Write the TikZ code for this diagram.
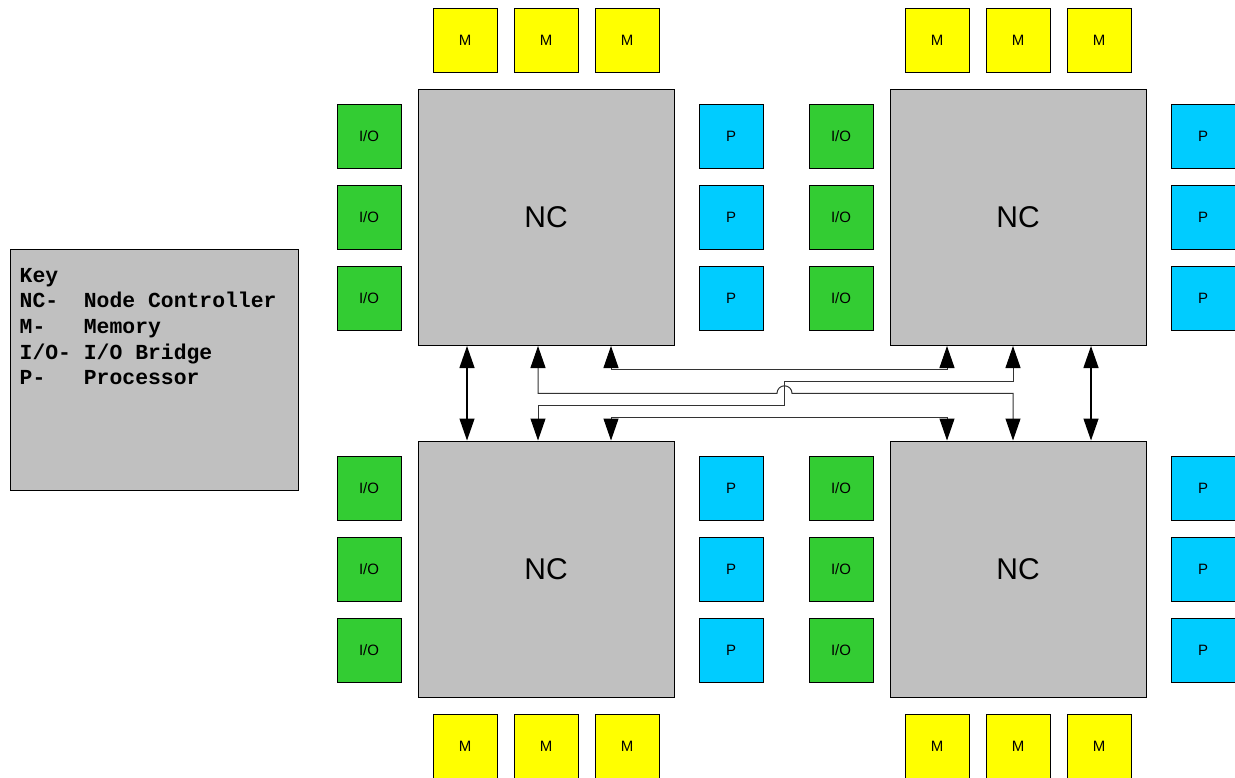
\documentclass[tikz,border=0pt]{standalone}
\usepackage{fontspec}
\setmainfont{Liberation Sans}
\newfontfamily\keyfont{Liberation Mono}
\usepackage{tikz}
\usetikzlibrary{positioning, arrows.meta}
\definecolor{memyellow}{RGB}{255,255,0}
\definecolor{iogreen}{RGB}{51,204,51}
\definecolor{procblue}{RGB}{0,204,255}
\definecolor{ncgray}{RGB}{192,192,192}
\tikzstyle{ncbox} = [rectangle, minimum width=256pt, minimum height=256pt, inner sep=0pt, draw=black, line width=1pt, fill=ncgray, font=\fontsize{30}{36}\selectfont]
\tikzstyle{unit} = [rectangle, minimum size=64pt, inner sep=0pt, draw=black, line width=1pt, font=\fontsize{15}{18}\selectfont]
\tikzstyle{membox} = [unit, fill=memyellow]
\tikzstyle{iobox} = [unit, fill=iogreen]
\tikzstyle{procbox} = [unit, fill=procblue]
\tikzstyle{keybox} = [rectangle, minimum width=288pt, minimum height=240pt, inner sep=0pt, draw=black, line width=1pt, fill=ncgray]
\tikzstyle{bus} = [draw=black!80, line width=1pt, >={Triangle[length=22pt, width=15pt, color=black]}, <->]
\tikzstyle{mainbus} = [bus, draw=black, line width=1.3pt]

\begin{document}
\begin{tikzpicture}[x=1pt, y=-1pt]
    \useasboundingbox (0,0) rectangle (1235,778);

    % node controllers with I/O bridges and processors
    \foreach \nc/\cx/\cy in {tl/546/217.5, tr/1018/217.5, bl/546/569, br/1018/569} {
        \node (\nc) [ncbox] at (\cx,\cy) {NC};
        \node (\nc-io2) [iobox, left=16pt of \nc] {I/O};
        \node (\nc-io1) [iobox, above=16pt of \nc-io2] {I/O};
        \node (\nc-io3) [iobox, below=16pt of \nc-io2] {I/O};
        \node (\nc-p2) [procbox, right=24pt of \nc] {P};
        \node (\nc-p1) [procbox, above=16pt of \nc-p2] {P};
        \node (\nc-p3) [procbox, below=16pt of \nc-p2] {P};
    }
    % memories
    \foreach \nc in {tl, tr} {
        \node (\nc-m2) [membox, above=16pt of \nc] {M};
        \node (\nc-m1) [membox, left=16pt of \nc-m2] {M};
        \node (\nc-m3) [membox, right=16pt of \nc-m2] {M};
    }
    \foreach \nc in {bl, br} {
        \node (\nc-m2) [membox, below=16pt of \nc] {M};
        \node (\nc-m1) [membox, left=16pt of \nc-m2] {M};
        \node (\nc-m3) [membox, right=16pt of \nc-m2] {M};
    }

    % key
    \node (key) [keybox] at (154,370) {};
    \node (keytext) [anchor=north west, align=left, inner sep=0pt, font=\keyfont\bfseries\fontsize{21.4}{25.6}\selectfont] at ([xshift=10pt, yshift=-18.5pt]key.north west) {Key\\NC-~~Node Controller\\M-~~~Memory\\I/O-~I/O Bridge\\P-~~~Processor};

    % links between node controllers
    \coordinate (hop) at (784.5,393.3);
    \draw [mainbus] ([xshift=-79pt]tl.south) -- ([xshift=-79pt]bl.north);
    \draw [mainbus] ([xshift=73pt]tr.south) -- ([xshift=73pt]br.north);
    \draw [bus] ([xshift=65pt]tl.south) -- ++(0,23.3) -| ([xshift=-71pt]tr.south);
    \draw [bus] ([xshift=65pt]bl.north) -- ++(0,-23.3) -| ([xshift=-71pt]br.north);
    \draw [bus] ([xshift=-8pt]tl.south) |- ([xshift=-7.5pt]hop) arc (180:360:7.5) -| ([xshift=-5pt]br.north);
    \draw [bus] ([xshift=-8pt]bl.north) |- ([yshift=-12.4pt]hop) -- ([yshift=11.6pt]hop) -| ([xshift=-5pt]tr.south);
\end{tikzpicture}
\end{document}
